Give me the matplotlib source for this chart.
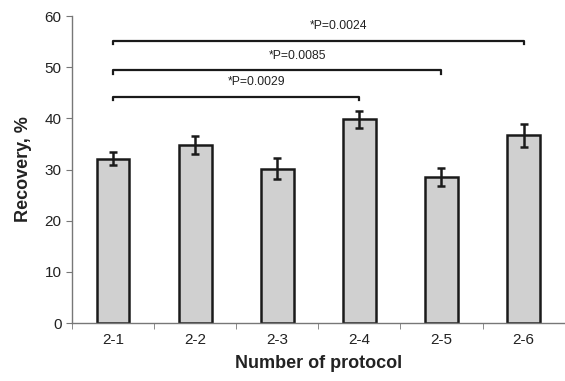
import matplotlib.pyplot as plt

protocols = ['2-1', '2-2', '2-3', '2-4', '2-5', '2-6']
recovery = [32.1, 34.8, 30.2, 39.8, 28.5, 36.7]
errors = [1.3, 1.8, 2.0, 1.6, 1.8, 2.2]

# significance brackets: (from bar, to bar, height, label)
brk_start = [0, 0, 0]
brk_end = [3, 4, 5]
brk_height = [44.2, 49.4, 55.2]
brk_labels = ['*P=0.0029', '*P=0.0085', '*P=0.0024']

plt.rcParams['font.family'] = ['Liberation Sans', 'DejaVu Sans']

fig = plt.figure(figsize=(5.65, 3.81), dpi=100)
ax = fig.add_axes([0.1274, 0.152, 0.872, 0.806])

x = range(len(protocols))
ax.bar(x, recovery, width=0.4, color='#d0d0d0', edgecolor='#1a1a1a', linewidth=1.8, zorder=2)
ax.errorbar(x, recovery, yerr=errors, fmt='none', ecolor='#1a1a1a',
            elinewidth=1.8, capsize=3, capthick=1.8, zorder=3)

for s, e, h, lab in zip(brk_start, brk_end, brk_height, brk_labels):
    ax.plot([s, s, e, e], [h - 0.7, h, h, h - 0.7], color='#1a1a1a', lw=1.6,
            clip_on=False)
    ax.text((s + e) / 2 + 0.25, h + 1.7, lab, ha='center', va='bottom', fontsize=8.7,
            color='#222222')

ax.set_xlim(-0.5, 5.5)
ax.set_ylim(0, 60)
ax.set_yticks([0, 10, 20, 30, 40, 50, 60])
ax.set_xticks(list(x))
ax.set_xticklabels(protocols)
ax.set_xticks([i - 0.5 for i in range(len(protocols) + 1)], minor=True)
ax.tick_params(axis='x', which='major', length=0, pad=7, labelsize=11, labelcolor='#222222')
ax.tick_params(axis='x', which='minor', length=4, color='#777777')
ax.tick_params(axis='y', length=4, color='#777777', labelsize=11, labelcolor='#222222')

for side in ['top', 'right']:
    ax.spines[side].set_visible(False)
for side in ['left', 'bottom']:
    ax.spines[side].set_color('#777777')
    ax.spines[side].set_linewidth(1.0)

ax.set_ylabel('Recovery, %', fontsize=13, fontweight='bold', labelpad=9, color='#222222')
ax.set_xlabel('Number of protocol', fontsize=13, fontweight='bold', labelpad=6, color='#222222')

plt.savefig('out.png', dpi=100)
